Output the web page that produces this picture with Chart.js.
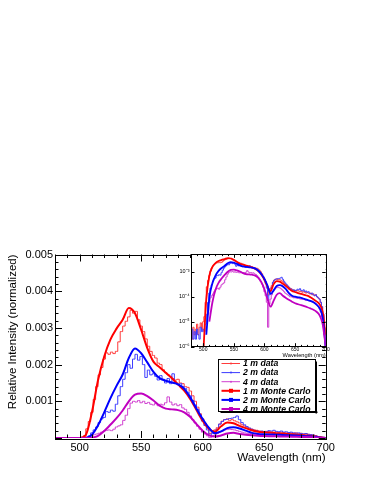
<!DOCTYPE html>
<html>
<head>
<meta charset="utf-8">
<script src="https://cdn.jsdelivr.net/npm/chart.js@4.4.1/dist/chart.umd.min.js"></script>
<style>
  body { margin: 0; background: #fff; }
  #wrap { position: relative; width: 374px; height: 484px; }
  #wrap canvas { position: absolute; left: 0; top: 0; }
</style>
</head>
<body>
<div id="wrap">
  <canvas id="mainChart" width="374" height="484"></canvas>
  <canvas id="insetChart" width="374" height="484"></canvas>
</div>
<script>
// 値の単位（1e-5）
const SCALE = 1e-5;

// 測定データの波長（nm）
const dataWavelengths = [
  480, 482, 484, 486, 488, 490, 492, 494, 496, 498,
  500, 502, 504, 506, 508, 510, 512, 514, 516, 518,
  520, 522, 524, 526, 528, 530, 532, 534, 536, 538,
  540, 542, 544, 546, 548, 550, 552, 554, 556, 558,
  560, 562, 564, 566, 568, 570, 572, 574, 576, 578,
  580, 582, 584, 586, 588, 590, 592, 594, 596, 598,
  600, 602, 604, 606, 608, 610, 612, 614, 616, 618,
  620, 622, 624, 626, 628, 630, 632, 634, 636, 638,
  640, 642, 644, 646, 648, 650, 652, 654, 656, 658,
  660, 662, 664, 666, 668, 670, 672, 674, 676, 678,
  680, 682, 684, 686, 688, 690, 692, 694, 696, 698,
  700
];

const data1m = [
  0.4, 0.2, 0.6, 0.3, 0.5, 0.8, 0.3, 0.6, 0.9, 0.5,
  1.0, 1.6, 6, 25, 45, 70, 105, 140, 172, 192,
  215, 232, 228, 234, 230, 236, 262, 290, 305, 318,
  330, 348, 340, 345, 322, 305, 290, 270, 250, 236,
  225, 218, 204, 200, 186, 178, 172, 168, 162, 158,
  160, 150, 148, 140, 138, 128, 115, 100, 84, 66,
  52, 40, 30, 12, 18, 22, 28, 38, 46, 50,
  52, 48, 50, 47, 44, 41, 36, 33, 30, 27,
  24, 22, 21, 19, 18, 18, 17, 18, 17, 16,
  17, 15, 16, 15, 14, 15, 14, 13, 14, 12,
  13, 11, 12, 10, 9, 8, 6, 4, 2, 0.6,
  0.2
];

const data2m = [
  0.3, 0.5, 0.2, 0.4, 0.2, 0.5, 0.3, 0.2, 0.6, 0.4,
  0.5, 0.4, 0.8, 2, 6, 14, 22, 30, 42, 52,
  56, 72, 70, 76, 73, 92, 115, 140, 160, 178,
  200, 190, 215, 228, 212, 222, 200, 165, 185, 172,
  175, 168, 158, 170, 160, 150, 162, 148, 175, 150,
  145, 148, 140, 135, 125, 115, 102, 90, 78, 62,
  46, 34, 22, 7, 12, 16, 24, 38, 45, 50,
  51, 53, 54, 56, 60, 50, 42, 36, 31, 27,
  24, 21, 20, 18, 19, 17, 18, 20, 19, 21,
  18, 17, 19, 16, 17, 15, 16, 14, 13, 14,
  12, 11, 12, 10, 9, 8, 6, 4, 2, 0.5,
  0.1
];

const data4m = [
  0, 0, 0, 0, 0, 0, 0, 0, 0, 0,
  0, 0, 0, 0, 2, 6, 9, 11, 13, 16,
  19, 21, 22, 20, 24, 30, 33, 36, 48, 62,
  80, 95, 100, 98, 102, 96, 100, 94, 97, 92,
  90, 95, 88, 92, 90, 96, 112, 98, 90, 93,
  88, 91, 82, 78, 70, 60, 50, 41, 32, 24,
  16, 11, 6, 0.6, 5, 8, 12, 16, 19, 22,
  23, 24, 23, 22, 20, 18, 16, 14, 13, 12,
  11, 10, 10, 9.5, 9, 9.2, 8.8, 8.5, 8.6, 8.2,
  8, 7.8, 7.9, 7.5, 7.2, 7.4, 7, 6.8, 6.5, 6.2,
  6, 5.6, 5.2, 4.6, 4, 3.2, 2.4, 1.5, 0.8, 0.3,
  0
];

// Monte Carlo の波長（nm）
const mcWavelengths = [
  480, 485, 490, 495, 500, 505, 510, 515, 520, 525,
  530, 535, 540, 545, 550, 555, 560, 565, 570, 575,
  580, 585, 590, 595, 600, 605, 610, 615, 620, 625,
  630, 635, 640, 645, 650, 655, 660, 665, 670, 675,
  680, 685, 690, 695, 700
];

const mc1m = [
  0, 0, 0, 0, 0.05, 8, 70, 158, 222, 268,
  298, 322, 354, 340, 295, 245, 208, 193, 178, 163,
  146, 129, 106, 76, 47, 25, 17, 32, 42, 40,
  33, 27, 21, 17, 15.5, 14, 13, 12, 11, 9.5,
  8, 6.5, 5, 2.5, 0.3
];

const mc2m = [
  0, 0, 0, 0, 0, 0.3, 9, 35, 70, 108,
  142, 173, 218, 244, 231, 206, 180, 163, 156, 151,
  146, 134, 110, 80, 52, 28, 13, 18, 27, 29,
  26, 20, 14, 11, 10, 9.5, 9, 8.2, 7.5, 6.8,
  6, 4.8, 3.5, 1.5, 0.1
];

const mc4m = [
  0, 0, 0, 0, 0, 0, 1, 6, 19, 36,
  54, 75, 100, 118, 121, 114, 102, 88, 80, 78,
  76, 70, 57, 38, 20, 8, 4, 7, 12, 14,
  11, 9, 7.5, 6.3, 5.5, 5, 4.6, 4.2, 3.8, 3.4,
  3, 2.5, 1.8, 0.8, 0.1
];

const seriesLabels = ['1 m data', '2 m data', '4 m data', '1 m Monte Carlo', '2 m Monte Carlo', '4 m Monte Carlo'];
const xTickLabels = [500, 550, 600, 650, 700];
const yTickLabels = [0.001, 0.002, 0.003, 0.004, 0.005];
const logTickLabels = [1e-6, 1e-5, 1e-4, 1e-3];

const FONT = '"Liberation Sans", Arial, Helvetica, sans-serif';
Chart.defaults.font.family = FONT;
Chart.defaults.color = '#000';

// 色
const dataColors = ['#ff3b3b', '#3b3bff', '#d040d0'];
const mcColors = ['#ff0000', '#0000ff', '#c000c0'];

function toPoints(xs, ys) {
  return xs.map((x, i) => ({ x: x, y: ys[i] * SCALE }));
}

// データセットを作成（mcWidth は線の太さ）
function buildDatasets(mcWidth) {
  const dataSeries = [data1m, data2m, data4m];
  const mcSeries = [mc1m, mc2m, mc4m];
  const sets = [];
  dataSeries.forEach((ys, i) => {
    sets.push({
      label: seriesLabels[i],
      data: toPoints(dataWavelengths, ys),
      borderColor: dataColors[i],
      borderWidth: 1,
      pointRadius: 0,
      stepped: 'middle',
      fill: false,
      order: 5 - i
    });
  });
  mcSeries.forEach((ys, i) => {
    sets.push({
      label: seriesLabels[i + 3],
      data: toPoints(mcWavelengths, ys),
      borderColor: mcColors[i],
      borderWidth: mcWidth,
      pointRadius: 0,
      cubicInterpolationMode: 'monotone',
      fill: false,
      order: 2 - i
    });
  });
  return sets;
}

// 枠と内向きの目盛り（ROOT 風）
const frameTicksPlugin = {
  id: 'frameTicks',
  beforeDatasetsDraw(chart, args, opts) {
    if (!opts.fill) return;
    const a = chart.chartArea;
    const ctx = chart.ctx;
    ctx.save();
    ctx.fillStyle = '#fff';
    ctx.fillRect(a.left, a.top, a.right - a.left, a.bottom - a.top);
    ctx.restore();
  },
  afterDraw(chart, args, opts) {
    const ctx = chart.ctx;
    const a = chart.chartArea;
    const xs = chart.scales.x;
    const ys = chart.scales.y;
    ctx.save();
    ctx.strokeStyle = '#000';
    ctx.lineWidth = 1;
    ctx.beginPath();
    opts.xTicks.forEach(t => {
      const px = Math.round(xs.getPixelForValue(t.v)) + 0.5;
      ctx.moveTo(px, a.bottom); ctx.lineTo(px, a.bottom - t.len);
      ctx.moveTo(px, a.top); ctx.lineTo(px, a.top + t.len);
    });
    opts.yTicks.forEach(t => {
      const py = Math.round(ys.getPixelForValue(t.v)) + 0.5;
      ctx.moveTo(a.left, py); ctx.lineTo(a.left + t.len, py);
      ctx.moveTo(a.right, py); ctx.lineTo(a.right - t.len, py);
    });
    ctx.stroke();
    ctx.strokeRect(Math.round(a.left) + 0.5, Math.round(a.top) + 0.5,
      Math.round(a.right - a.left), Math.round(a.bottom - a.top));
    ctx.restore();
  }
};

// 凡例（枠内に手描き）
const legendPlugin = {
  id: 'rootLegend',
  afterDraw(chart) {
    const ctx = chart.ctx;
    const bx = 218.5, by = 359.5, bw = 97, bh = 52;
    ctx.save();
    ctx.fillStyle = '#000';
    ctx.fillRect(bx + 2, by + bh, bw, 1.5);
    ctx.fillRect(bx + bw, by + 2, 1.5, bh);
    ctx.fillStyle = '#fff';
    ctx.fillRect(bx, by, bw, bh);
    ctx.strokeStyle = '#000';
    ctx.lineWidth = 1;
    ctx.strokeRect(bx, by, bw, bh);
    ctx.font = 'italic bold 8.7px ' + FONT;
    ctx.textBaseline = 'middle';
    chart.data.datasets.forEach((ds, i) => {
      const y = 363.5 + i * 9.1;
      const isMc = i >= 3;
      ctx.strokeStyle = ds.borderColor;
      ctx.lineWidth = isMc ? 2 : 1;
      ctx.beginPath();
      ctx.moveTo(221.5, y);
      ctx.lineTo(240, y);
      ctx.stroke();
      ctx.fillStyle = ds.borderColor;
      if (isMc) {
        ctx.fillRect(229, y - 2, 4, 4);
      } else {
        ctx.beginPath();
        ctx.arc(231, y, 1, 0, Math.PI * 2);
        ctx.fill();
      }
      ctx.fillStyle = '#000';
      ctx.fillText(ds.label, 243, y + 0.5);
    });
    ctx.restore();
  }
};

// 目盛りリスト
const mainXTicks = [];
for (let v = 480; v <= 700; v += 10) mainXTicks.push({ v: v, len: v % 50 === 0 ? 7 : 3.5 });
const mainYTicks = [];
for (let k = 0; k <= 25; k++) mainYTicks.push({ v: k * 0.0002, len: k % 5 === 0 ? 7 : 3.5 });
const insetXTicks = [];
for (let v = 480; v <= 700; v += 10) insetXTicks.push({ v: v, len: v % 50 === 0 ? 3.5 : 1.8 });
const insetYTicks = logTickLabels.map(v => ({ v: v, len: 3.5 }));

const supDigits = { '0': '⁰', '1': '¹', '2': '²', '3': '³', '4': '⁴', '5': '⁵', '6': '⁶', '7': '⁷', '8': '⁸', '9': '⁹', '-': '⁻' };
function powerLabel(v) {
  const e = String(Math.round(Math.log10(v)));
  return '10' + e.split('').map(c => supDigits[c]).join('');
}

// メインチャート（線形）
new Chart(document.getElementById('mainChart'), {
  type: 'line',
  data: { datasets: buildDatasets(2) },
  options: {
    responsive: false,
    animation: false,
    layout: { padding: { left: 0, top: 254.5, right: 48.3, bottom: 0 } },
    plugins: {
      legend: { display: false },
      tooltip: { enabled: false },
      frameTicks: { xTicks: mainXTicks, yTicks: mainYTicks, fill: false }
    },
    scales: {
      x: {
        type: 'linear',
        min: 480,
        max: 700,
        grid: { display: false, drawTicks: false },
        border: { display: false },
        afterBuildTicks: s => { s.ticks = xTickLabels.map(v => ({ value: v })); },
        afterFit: s => { s.height = 46; },
        ticks: { font: { size: 11 }, color: '#000', padding: 3, maxRotation: 0, autoSkip: false },
        title: {
          display: true, text: 'Wavelength (nm)', align: 'end', color: '#000',
          font: { size: 11.7 }, padding: { top: 0, bottom: 19 }
        }
      },
      y: {
        type: 'linear',
        min: 0,
        max: 0.005,
        grid: { display: false, drawTicks: false },
        border: { display: false },
        afterBuildTicks: s => { s.ticks = yTickLabels.map(v => ({ value: v })); },
        afterFit: s => { s.width = 55; },
        ticks: { font: { size: 11 }, color: '#000', padding: 2, callback: v => v.toFixed(3) },
        title: {
          display: true, text: 'Relative Intensity (normalized)', align: 'end', color: '#000',
          font: { size: 11.5 }, padding: { top: 5.5, bottom: 0 }
        }
      }
    }
  },
  plugins: [frameTicksPlugin, legendPlugin]
});

// 挿入図（対数）
new Chart(document.getElementById('insetChart'), {
  type: 'line',
  data: { datasets: buildDatasets(1.8) },
  options: {
    responsive: false,
    animation: false,
    layout: { padding: { left: 177, top: 254.3, right: 48.3, bottom: 125.3 } },
    plugins: {
      legend: { display: false },
      tooltip: { enabled: false },
      frameTicks: { xTicks: insetXTicks, yTicks: insetYTicks, fill: true }
    },
    scales: {
      x: {
        type: 'linear',
        min: 480,
        max: 700,
        grid: { display: false, drawTicks: false },
        border: { display: false },
        afterBuildTicks: s => { s.ticks = xTickLabels.map(v => ({ value: v })); },
        afterFit: s => { s.height = 12; },
        ticks: { font: { size: 5 }, color: '#000', padding: 0, maxRotation: 0, autoSkip: false },
        title: {
          display: true, text: 'Wavelength (nm)', align: 'end', color: '#000',
          font: { size: 5.7 }, padding: { top: 0, bottom: 0 }
        }
      },
      y: {
        type: 'logarithmic',
        min: 1e-6,
        max: 5e-3,
        grid: { display: false, drawTicks: false },
        border: { display: false },
        afterBuildTicks: s => { s.ticks = logTickLabels.map(v => ({ value: v })); },
        afterFit: s => { s.width = 14; },
        ticks: { font: { size: 5.5 }, color: '#000', padding: 1.5, callback: v => powerLabel(v) }
      }
    }
  },
  plugins: [frameTicksPlugin]
});
</script>
</body>
</html>
